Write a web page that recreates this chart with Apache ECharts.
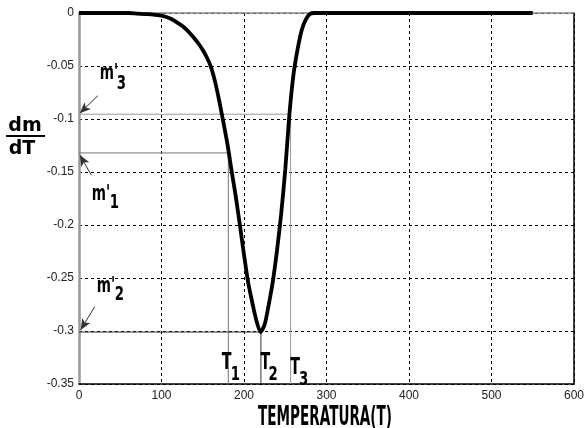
<!DOCTYPE html>
<html>
<head>
<meta charset="utf-8">
<script src="https://cdn.jsdelivr.net/npm/echarts@6/dist/echarts.min.js"></script>
<style>
  html, body { margin: 0; padding: 0; background: #ffffff; }
  #chart { width: 587px; height: 428px; }
</style>
</head>
<body>
<div id="chart"></div>
<script>
// curve dm/dT vs temperature
const temps = [0, 20, 40, 60, 70, 80, 90, 100, 105, 110, 115, 120, 125, 130, 135, 140, 145, 150, 155, 160, 165, 170, 175, 180,
  185, 190, 195, 200, 205, 210, 215, 220, 225, 230, 235, 240, 245, 250, 255, 260, 265, 270, 275, 280,
  285, 300, 400, 500, 550];
const dmdT = [0, 0, 0, 0, -0.0005, -0.001, -0.0015, -0.0025, -0.0035, -0.005, -0.007, -0.0095, -0.012, -0.0155, -0.0195, -0.024, -0.029, -0.035, -0.042, -0.051, -0.065, -0.083, -0.103, -0.124,
  -0.149, -0.173, -0.2, -0.228, -0.254, -0.273, -0.29, -0.301, -0.294, -0.275, -0.253, -0.224, -0.19, -0.148, -0.096, -0.058, -0.034, -0.016, -0.006, -0.001,
  0, 0, 0, 0, 0];

// characteristic points T1, T2, T3 and their slopes m'1, m'2, m'3
const tNames = ['1', '2', '3'];
const tValues = [181, 220.5, 256.5];
const mValues = [-0.132, -0.301, -0.0955];
const refColors = ['#777777', '#333333', '#999999'];

const xTicks = [0, 100, 200, 300, 400, 500, 600];
const yTicks = [-0.35, -0.3, -0.25, -0.2, -0.15, -0.1, -0.05, 0];

// arrows pointing at m' on the y axis  [from, to]
const arrows = [
  [[15, -0.153], [1, -0.134]],
  [[19, -0.277], [2, -0.299]],
  [[23, -0.078], [1, -0.0945]]
];
// label anchors (left / middle) in data units
const mLabelPos = [[15.6, -0.171], [21.6, -0.2575], [25.2, -0.0566]];
const mSubPos = [[37.3, -0.179], [43.3, -0.266], [45.7, -0.067]];
const tLabelPos = [[173, -0.330], [220, -0.330], [256, -0.335]];
const tSubPos = [[184, -0.3415], [229.6, -0.3415], [266.8, -0.346]];

const FONT = 'DejaVu Sans';
const myChart = echarts.init(document.getElementById('chart'));

const refSeries = tValues.map(function (t, i) {
  return {
    name: 'ref' + tNames[i],
    type: 'line',
    data: [[0, mValues[i]], [t, mValues[i]], [t, yTicks[0]]],
    symbol: 'none',
    silent: true,
    z: 1,
    lineStyle: { color: refColors[i], width: 1 },
    markLine: {
      silent: true,
      symbol: ['none', 'arrow'],
      symbolSize: [7, 11],
      label: { show: false },
      lineStyle: { color: '#333', width: 1, type: 'solid' },
      data: [[{ coord: arrows[i][0] }, { coord: arrows[i][1] }]]
    }
  };
});

myChart.setOption({
  animation: false,
  backgroundColor: '#ffffff',
  grid: { left: 79, right: 10, top: 13, bottom: 44 },
  xAxis: [{
    type: 'value', min: xTicks[0], max: xTicks[xTicks.length - 1], interval: 100,
    axisLine: { show: true, onZero: false, lineStyle: { color: '#000', width: 1.5 } },
    axisTick: { show: false },
    axisLabel: { color: '#222', fontSize: 12, fontFamily: 'Liberation Sans', margin: 6 },
    splitLine: { show: true, lineStyle: { color: '#000', type: [3, 3], width: 1 } }
  }, {
    type: 'value', position: 'top', min: 0, max: 600,
    axisLine: { show: true, onZero: false, lineStyle: { color: '#888', width: 1.5 } },
    axisTick: { show: false }, axisLabel: { show: false }, splitLine: { show: false }
  }],
  yAxis: [{
    type: 'value', min: yTicks[0], max: 0, interval: 0.05,
    axisLine: { show: true, onZero: false, lineStyle: { color: '#999', width: 2.5 } },
    axisTick: { show: false },
    axisLabel: { color: '#222', fontSize: 12, fontFamily: 'Liberation Sans', margin: 5 },
    splitLine: { show: true, lineStyle: { color: '#000', type: [3, 3], width: 1 } }
  }, {
    type: 'value', position: 'right', min: -0.35, max: 0,
    axisLine: { show: true, onZero: false, lineStyle: { color: '#000', width: 1.5 } },
    axisTick: { show: false }, axisLabel: { show: false }, splitLine: { show: false }
  }],
  series: refSeries.concat([{
    name: 'dm/dT',
    type: 'line',
    data: temps.map(function (t, i) { return [t, dmdT[i]]; }),
    symbol: 'none',
    smooth: 0.25,
    z: 5,
    lineStyle: { color: '#000', width: 3.8 }
  }])
});

// annotation text, placed through the chart's own coordinate system
function px(p) { return myChart.convertToPixel({ gridIndex: 0 }, p); }
function label(text, pos, size, sx) {
  const p = px(pos);
  return {
    type: 'text', x: p[0], y: p[1], scaleX: sx, z: 100,
    style: { text: text, font: 'bold ' + size + 'px ' + FONT, fill: '#000', align: 'left', verticalAlign: 'middle' }
  };
}
const ctx = document.createElement('canvas').getContext('2d');
ctx.font = 'bold 26px ' + FONT;
const titleScale = 134 / ctx.measureText('TEMPERATURA(T)').width;

const graphics = [];
for (let i = 0; i < 3; i++) {
  graphics.push(label("m'", mLabelPos[i], 22, 0.62));
  graphics.push(label(tNames[i], mSubPos[i], 19, 0.7));
  graphics.push(label('T', tLabelPos[i], 23, 0.62));
  graphics.push(label(tNames[i], tSubPos[i], 19, 0.7));
}
graphics.push({
  type: 'text', x: 258, y: 418, scaleX: titleScale, z: 100,
  style: { text: 'TEMPERATURA(T)', font: 'bold 26px ' + FONT, fill: '#000', align: 'left', verticalAlign: 'middle' }
});
graphics.push({
  type: 'text', x: 25, y: 126, z: 100,
  style: { text: 'dm', font: 'bold 19px ' + FONT, fill: '#000', align: 'center', verticalAlign: 'middle' }
});
graphics.push({
  type: 'rect', shape: { x: 6, y: 135, width: 39, height: 2 }, style: { fill: '#000' }, z: 100
});
graphics.push({
  type: 'text', x: 22, y: 149, z: 100,
  style: { text: 'dT', font: 'bold 19px ' + FONT, fill: '#000', align: 'center', verticalAlign: 'middle' }
});
myChart.setOption({ graphic: graphics });
</script>
</body>
</html>
